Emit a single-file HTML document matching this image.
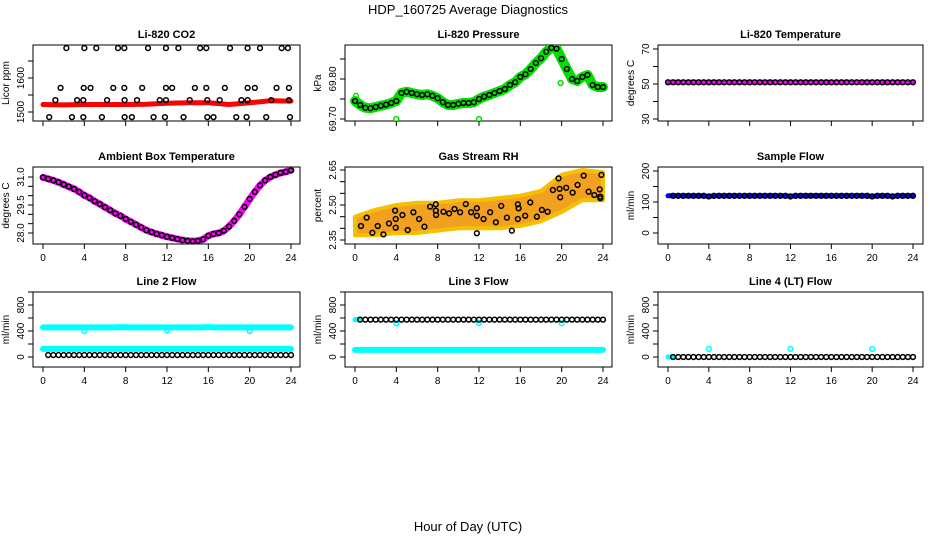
<!DOCTYPE html>
<html><head><meta charset="utf-8">
<style>
html,body{margin:0;padding:0;background:#fff;}
svg{display:block;font-family:"Liberation Sans",Arial,sans-serif;}
</style></head>
<body>
<svg id="chart" width="936" height="540" viewBox="0 0 936 540" xmlns="http://www.w3.org/2000/svg">
<text x="468" y="14" font-size="13" text-anchor="middle">HDP_160725  Average Diagnostics</text>
<text x="468" y="531" font-size="13" text-anchor="middle">Hour of Day (UTC)</text>
</svg>
<script>
// ---------- data ----------
const xTicks = [0,4,8,12,16,20,24];
const co2Hours = [2.26,4.0,5.16,7.26,7.87,10.16,11.9,13.1,15.2,15.8,18.1,19.8,21.0,23.1,23.7,
 1.7,3.94,4.6,6.8,7.87,9.6,11.9,12.5,14.7,15.8,17.6,19.8,20.5,22.6,23.8,
 1.2,3.3,3.9,6.2,7.9,9.1,11.3,11.9,14.2,15.9,17.1,19.2,19.8,22.1,23.8,
 0.6,2.8,3.9,5.7,7.9,8.6,10.7,11.8,13.6,15.9,16.5,18.7,19.7,21.6,23.9];
const co2Values = [1688,1688,1688,1688,1688,1688,1688,1688,1688,1688,1688,1688,1688,1688,1688,
 1571,1571,1571,1571,1571,1571,1571,1571,1571,1571,1571,1571,1571,1571,1571,
 1535,1535,1535,1535,1535,1535,1535,1535,1535,1535,1535,1535,1535,1535,1535,
 1485,1485,1485,1485,1485,1485,1485,1485,1485,1485,1485,1485,1485,1485,1485];
const co2BandHours = [0,2,4,6,8,10,12,14,16,18,20,22,24];
const co2BandValues = [1522,1521,1522,1522,1522,1523,1526,1527,1527,1522,1527,1533,1532];
const halfHours = [0,0.5,1,1.5,2,2.5,3,3.5,4,4.5,5,5.5,6,6.5,7,7.5,8,8.5,9,9.5,10,10.5,11,11.5,12,12.5,13,13.5,14,14.5,15,15.5,16,16.5,17,17.5,18,18.5,19,19.5,20,20.5,21,21.5,22,22.5,23,23.5,24];
const pressureValues = [69.745,69.735,69.728,69.727,69.730,69.733,69.736,69.740,69.745,69.765,69.768,69.765,69.762,69.760,69.762,69.758,69.752,69.742,69.735,69.735,69.738,69.740,69.740,69.742,69.750,69.756,69.760,69.765,69.770,69.775,69.785,69.792,69.805,69.812,69.825,69.840,69.852,69.868,69.878,69.876,69.850,69.825,69.800,69.795,69.805,69.810,69.785,69.780,69.780];
const pressureOutlierHours = [0.1,4.0,12.0,19.9];
const pressureOutlierValues = [69.758,69.700,69.700,69.790];
const liTempValues = [51,51,51,51,51,51,51,51,51,51,51,51,51,51,51,51,51,51,51,51,51,51,51,51,51,51,51,51,51,51,51,51,51,51,51,51,51,51,51,51,51,51,51,51,51,51,51,51,51];
const ambientValues = [30.98,30.90,30.82,30.72,30.60,30.48,30.36,30.20,30.02,29.88,29.70,29.55,29.38,29.22,29.05,28.92,28.75,28.60,28.45,28.30,28.15,28.05,27.95,27.88,27.80,27.74,27.68,27.62,27.58,27.56,27.58,27.66,27.85,27.95,28.00,28.12,28.35,28.65,29.00,29.40,29.82,30.20,30.55,30.82,31.00,31.12,31.22,31.28,31.36];
const rhBandHours = [0,2,4,6,8,10,12,14,16,18,20,22,24];
const rhBandUpper = [2.45,2.48,2.50,2.51,2.51,2.52,2.52,2.53,2.54,2.56,2.63,2.65,2.64];
const rhBandLower = [2.37,2.37,2.38,2.38,2.39,2.40,2.40,2.40,2.41,2.43,2.47,2.52,2.52];
const rhHours = [0.58,1.13,1.68,2.2,2.75,3.29,3.88,3.94,3.94,4.59,5.1,5.65,6.2,6.72,7.27,7.82,7.82,7.85,8.56,9.11,9.63,10.17,10.72,11.24,11.79,11.79,11.79,12.44,13.08,13.63,14.15,14.7,15.18,15.76,15.83,15.76,16.47,16.96,17.6,18.09,18.64,19.15,19.7,19.8,19.86,20.44,21.06,21.54,22.13,22.61,23.16,23.68,23.74,23.74,23.84];
const rhValues = [2.41,2.446,2.381,2.41,2.374,2.421,2.476,2.44,2.403,2.457,2.393,2.469,2.44,2.407,2.493,2.503,2.476,2.457,2.471,2.464,2.483,2.469,2.504,2.469,2.486,2.454,2.379,2.44,2.469,2.426,2.496,2.446,2.39,2.503,2.486,2.44,2.454,2.511,2.45,2.479,2.471,2.564,2.614,2.569,2.533,2.574,2.553,2.586,2.626,2.557,2.543,2.567,2.536,2.529,2.629];
const sampleFlowValues = [120,120,120,120,120,120,120,120,118,120,120,120,120,120,120,120,120,120,120,120,120,120,120,120,118,120,120,120,120,120,120,120,120,120,120,120,120,120,120,120,118,120,120,120,118,120,120,120,120];
const line2HighValues = [455,455,455,455,455,455,455,455,455,455,455,455,455,455,455,460,458,455,455,455,455,455,455,455,455,455,455,455,455,455,455,455,462,455,455,455,455,455,455,455,455,455,455,455,455,455,455,455,455];
const line2DipHours = [4,12,20];
const line2DipValues = [400,410,400];
const line2LowValues = [125,125,125,125,125,125,125,125,125,125,125,125,125,125,125,125,125,125,125,125,125,125,125,125,125,125,125,125,125,125,125,125,125,125,125,125,125,125,125,125,125,125,125,125,125,125,125,125,125];
const line2BlackValues = [30,30,30,30,30,30,30,30,30,30,30,30,30,30,30,30,30,30,30,30,30,30,30,30,30,30,30,30,30,30,30,30,30,30,30,30,30,30,30,30,30,30,30,30,30,30,30,30,30];
const line3HighValues = [575,575,575,575,575,575,575,575,575,575,575,575,575,575,575,575,575,575,575,575,575,575,575,575,575,575,575,575,575,575,575,575,575,575,575,575,575,575,575,575,575,575,575,575,575,575,575,575,575];
const line3DipHours = [4,12,20];
const line3DipValues = [520,525,520];
const line3LowValues = [110,110,110,110,110,110,110,110,110,110,110,110,110,110,110,110,110,110,110,110,110,110,110,110,110,110,110,110,110,110,110,110,110,110,110,110,110,110,110,110,110,110,110,110,110,110,110,110,110];
const line4Values = [0,0,0,0,0,0,0,0,0,0,0,0,0,0,0,0,0,0,0,0,0,0,0,0,0,0,0,0,0,0,0,0,0,0,0,0,0,0,0,0,0,0,0,0,0,0,0,0,0];
const line4SpikeHours = [4,12,20];
const line4SpikeValues = [125,125,125];

// ---------- drawing ----------
const NS = "http://www.w3.org/2000/svg";
const svg = document.getElementById('chart');
function mk(tag, attrs, parent){
  const e = document.createElementNS(NS, tag);
  for (const k in attrs) e.setAttribute(k, attrs[k]);
  (parent||svg).appendChild(e);
  return e;
}
function panel(c){
  const g = mk('g', {});
  
  
  const sx = h => c.x0 + (c.x24 - c.x0) * h / 24;
  const sy = v => c.p1 + (v - c.v1) * (c.p2 - c.p1) / (c.v2 - c.v1);
  const t = mk('text', {x:(c.l+c.r)/2, y:c.t-7, 'font-size':11, 'font-weight':'bold', 'text-anchor':'middle'}, g);
  t.textContent = c.title;
  
  
  const yl = mk('text', {x:0, y:0, 'font-size':10, 'text-anchor':'middle', transform:`translate(${c.l-24},${(c.t+c.b)/2}) rotate(-90)`}, g);
  yl.textContent = c.ylab;
  
  
  const box = mk('rect', {x:c.l, y:c.t, width:c.r-c.l, height:c.b-c.t, fill:'none', stroke:'#000', 'stroke-width':1}, g);
  
  
  mk('line', {x1:sx(0), x2:sx(24), y1:c.b, y2:c.b, stroke:'#000'}, g);
  xTicks.forEach(h => {
    const tk = mk('line', {x1:sx(h), x2:sx(h), y1:c.b, y2:c.b+5, stroke:'#000'}, g);
    
    
    if (c.xlabels) {
      const tl = mk('text', {x:sx(h), y:c.b+17, 'font-size':10, 'text-anchor':'middle'}, g);
      tl.textContent = h;
      
      
    }
  });
  mk('line', {x1:c.l, x2:c.l, y1:sy(c.yTicks[0]), y2:sy(c.yTicks[c.yTicks.length-1]), stroke:'#000'}, g);
  c.yTicks.forEach(v => {
    const tk = mk('line', {x1:c.l-5, x2:c.l, y1:sy(v), y2:sy(v), stroke:'#000'}, g);
    
    
  });
  c.yLabels.forEach(v => {
    const tl = mk('text', {x:0, y:0, 'font-size':10, 'text-anchor':'middle', transform:`translate(${c.l-9},${sy(v)}) rotate(-90)`}, g);
    tl.textContent = c.fmt ? v.toFixed(c.fmt) : v;
    
    
  });
  const clip = 'clip-' + c.name;
  const cp = mk('clipPath', {id:clip}, g);
  mk('rect', {x:c.l, y:c.t, width:c.r-c.l, height:c.b-c.t}, cp);
  const plot = mk('g', {'clip-path':`url(#${clip})`}, g);
  return {g:plot, sx, sy};
}
function band(p, hs, vs, color, w, name){
  const pts = hs.map((h,i)=>p.sx(h).toFixed(1)+','+p.sy(vs[i]).toFixed(1)).join(' ');
  const e = mk('polyline', {points:pts, fill:'none', stroke:color, 'stroke-width':w, 'stroke-linejoin':'round', 'stroke-linecap':'round'}, p.g);
  
  
}
function pts(p, hs, vs, color, name, r){
  hs.forEach((h,i)=>{
    const e = mk('circle', {cx:p.sx(h), cy:p.sy(vs[i]), r:r||2.4, fill:'none', stroke:color, 'stroke-width':1.5}, p.g);
    
    
  });
}
const C1 = {l:33, r:300, x0:43, x24:291};
const C2 = {l:345, r:612, x0:355, x24:603};
const C3 = {l:658, r:923, x0:668, x24:913};
const R1 = {t:45, b:121}, R2 = {t:167, b:244}, R3 = {t:292, b:367};
const flowY = {v1:0, p1:357, v2:400, p2:331, yTicks:[0,200,400,600,800,1000], yLabels:[0,400,800], ylab:'ml/min', xlabels:true};

let p = panel(Object.assign({name:'panel-co2', title:'Li-820 CO2', ylab:'Licor ppm', v1:1500, p1:112, v2:1600, p2:78, yTicks:[1500,1550,1600,1650], yLabels:[1500,1600]}, C1, R1));
band(p, co2BandHours, co2BandValues, '#ff0000', 5, 'co2-series-red');
pts(p, co2Hours, co2Values, '#000', 'co2-point');

p = panel(Object.assign({name:'panel-pressure', title:'Li-820 Pressure', ylab:'kPa', v1:69.70, p1:119, v2:69.80, p2:79, yTicks:[69.70,69.75,69.80,69.85], yLabels:[69.70,69.80], fmt:2}, C2, R1));
band(p, halfHours, pressureValues, '#00e000', 10, 'pressure-series-green');
pts(p, pressureOutlierHours, pressureOutlierValues, '#00e000', 'pressure-outlier');
pts(p, halfHours, pressureValues, '#000', 'pressure-point');

p = panel(Object.assign({name:'panel-li-temp', title:'Li-820 Temperature', ylab:'degrees C', v1:30, p1:119, v2:70, p2:49, yTicks:[30,40,50,60,70], yLabels:[30,50,70]}, C3, R1));
band(p, halfHours, liTempValues, '#ff00ff', 5, 'li-temp-series');
pts(p, halfHours, liTempValues, '#000', 'li-temp-point');

p = panel(Object.assign({name:'panel-ambient', title:'Ambient Box Temperature', ylab:'degrees C', v1:28, p1:233, v2:31, p2:177, yTicks:[28,28.5,29,29.5,30,30.5,31], yLabels:[28,29.5,31], fmt:1, xlabels:true}, C1, R2));
band(p, halfHours, ambientValues, '#ff00ff', 7, 'ambient-series');
pts(p, halfHours, ambientValues, '#000', 'ambient-point');

p = panel(Object.assign({name:'panel-rh', title:'Gas Stream RH', ylab:'percent', v1:2.35, p1:240, v2:2.65, p2:170, yTicks:[2.35,2.40,2.45,2.50,2.55,2.60,2.65], yLabels:[2.35,2.50,2.65], fmt:2, xlabels:true}, C2, R2));
{
  const up = rhBandHours.map((h,i)=>p.sx(h).toFixed(1)+','+p.sy(rhBandUpper[i]).toFixed(1));
  const lo = rhBandHours.map((h,i)=>p.sx(h).toFixed(1)+','+p.sy(rhBandLower[i]).toFixed(1)).reverse();
  const e = mk('polygon', {points:up.concat(lo).join(' '), fill:'#f2a020', stroke:'#f5c000', 'stroke-width':4, 'stroke-linejoin':'round'}, p.g);
  
  
}
pts(p, rhHours, rhValues, '#000', 'rh-point');

p = panel(Object.assign({name:'panel-sample-flow', title:'Sample Flow', ylab:'ml/min', v1:0, p1:233, v2:200, p2:171, yTicks:[0,50,100,150,200], yLabels:[0,100,200], xlabels:true}, C3, R2));
band(p, halfHours, sampleFlowValues, '#0000ff', 5, 'sample-flow-series');
pts(p, halfHours.slice(1), sampleFlowValues.slice(1), '#000', 'sample-flow-point');

p = panel(Object.assign({name:'panel-line2', title:'Line 2 Flow'}, flowY, C1, R3));
band(p, halfHours, line2HighValues, '#00ffff', 6, 'line2-high-series');
pts(p, line2DipHours, line2DipValues, '#00ffff', 'line2-dip');
band(p, halfHours, line2LowValues, '#00ffff', 6, 'line2-low-series');
pts(p, halfHours.slice(1), line2BlackValues.slice(1), '#000', 'line2-point');

p = panel(Object.assign({name:'panel-line3', title:'Line 3 Flow'}, flowY, C2, R3));
band(p, halfHours, line3LowValues, '#00ffff', 6, 'line3-low-series');
pts(p, line3DipHours, line3DipValues, '#00ffff', 'line3-dip');
band(p, halfHours.slice(0,2), line3HighValues.slice(0,2), '#00ffff', 5, 'line3-high-series');
pts(p, halfHours.slice(1), line3HighValues.slice(1), '#000', 'line3-point');

p = panel(Object.assign({name:'panel-line4', title:'Line 4 (LT) Flow'}, flowY, C3, R3));
band(p, halfHours.slice(0,2), line4Values.slice(0,2), '#00ffff', 5, 'line4-series');
pts(p, line4SpikeHours, line4SpikeValues, '#00ffff', 'line4-spike');
pts(p, halfHours.slice(1), line4Values.slice(1), '#000', 'line4-point');
</script>
</body></html>
